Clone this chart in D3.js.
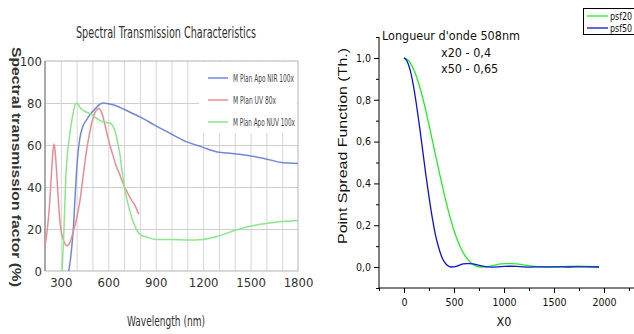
<!DOCTYPE html>
<html>
<head>
<meta charset="utf-8">
<script src="https://cdn.jsdelivr.net/npm/d3@7"></script>
<style>
  html, body { margin: 0; padding: 0; background: #fff; }
  svg { display: block; }
</style>
</head>
<body>
<svg id="chart" width="634" height="334"></svg>
<script>
// ---------------- DATA ----------------
// Left panel: Spectral transmission (%) vs wavelength (nm)
const specTitle = "Spectral Transmission Characteristics";
const specXLabel = "Wavelength (nm)";
const specYLabel = "Spectral transmission factor (%)";
const specXTicks = [300, 600, 900, 1200, 1500, 1800];
const specYTicks = [0, 20, 40, 60, 80, 100];
const specSeriesNames = ["M Plan Apo NIR 100x", "M Plan UV 80x", "M Plan Apo NUV 100x"];

const nirWl  = [350, 360, 370, 380, 390, 400, 410, 420, 440, 463, 490, 515, 540, 567, 600, 653, 700, 755, 800, 893, 988, 1093, 1195, 1290, 1385, 1485, 1586, 1693, 1800];
const nirVal = [0,   5,   12,  21,  35,  48,  57,  63,  69,  72,  75,  77,  79,  80,  79.6, 78.6, 77, 75, 73.4, 69.5, 65.7, 61.6, 59, 56.7, 56, 55, 53.6, 51.7, 51.2];

const uvWl  = [200, 215, 230, 242, 252, 258, 265, 273, 285, 300, 320, 340, 360, 380, 400, 420, 441, 460, 483, 500, 520, 538, 555, 575, 590, 610, 630, 650, 670, 692, 720, 745, 767, 793];
const uvVal = [12,  20,  33,  48,  58,  60.5, 56, 48, 33,  20,  14,  12,  14,  19,  25,  33,  45,  56,  66,  72,  76,  77.5, 76, 71, 66,  60,  55,  50,  46.5, 42, 37.5, 34, 31.5, 27];

const nuvWl  = [308, 320, 332, 345, 360, 375, 390, 400, 420, 450, 483, 520, 566, 610, 641, 660, 675, 690, 710, 735, 760, 780, 810, 840, 900, 1000, 1100, 1156, 1200, 1282, 1408, 1534, 1660, 1800];
const nuvVal = [0,   20,  45,  58,  67,  74,  79,  80,  78,  76,  75,  73,  71,  70.5, 67, 61, 55, 46, 37,  29,  23,  19.5, 17, 16.3, 15, 15,  14.8, 14.8, 15, 16.3, 19.5, 21.9, 23.2, 24];

// Right panel: Point spread function
const psfXLabel = "X0";
const psfYLabel = "Point Spread Function (Th.)";
const psfNote = ["Longueur d'onde 508nm", "x20 - 0,4", "x50 - 0,65"];
const psfSeriesNames = ["psf20", "psf50"];
const psfXTicks = [0, 500, 1000, 1500, 2000];
const psfXMinor = [-250, 250, 750, 1250, 1750, 2250];
const psfYTicks = [0, 0.2, 0.4, 0.6, 0.8, 1.0];
const psfYMinor = [-0.1, 0.1, 0.3, 0.5, 0.7, 0.9, 1.1];

const psf20X = [0, 51, 102, 154, 205, 256, 307, 359, 410, 461, 512, 563, 615, 666, 717, 768, 820, 871, 922, 973, 1025, 1076, 1127, 1178, 1229, 1281, 1332, 1383, 1434, 1537, 1639, 1742, 1844, 1947];
const psf20Y = [1.0, 0.984, 0.939, 0.867, 0.775, 0.667, 0.553, 0.440, 0.333, 0.238, 0.158, 0.096, 0.051, 0.022, 0.006, 0.0003, 0.001, 0.005, 0.011, 0.015, 0.017, 0.017, 0.015, 0.012, 0.0085, 0.005, 0.002, 0.0006, 0.0, 0.0013, 0.0034, 0.004, 0.003, 0.0012];

const psf50X = [0, 31, 63, 94, 125, 157, 188, 219, 251, 282, 313, 345, 376, 407, 439, 470, 501, 533, 564, 595, 627, 658, 689, 720, 752, 783, 814, 846, 877, 940, 1002, 1065, 1128, 1190, 1253, 1378, 1504, 1650, 1800, 1950];
const psf50Y = [1.0, 0.984, 0.939, 0.867, 0.775, 0.667, 0.553, 0.440, 0.333, 0.238, 0.158, 0.096, 0.051, 0.022, 0.006, 0.0003, 0.001, 0.005, 0.011, 0.015, 0.017, 0.017, 0.015, 0.012, 0.0085, 0.005, 0.002, 0.0006, 0.0, 0.0013, 0.0034, 0.004, 0.003, 0.0012, 0.0001, 0.001, 0.0014, 0.0005, 0.0008, 0.0005];

// ---------------- DRAWING ----------------
const NARROW = "'Liberation Sans Narrow','Arial Narrow','DejaVu Sans Condensed',sans-serif";
const SANS = "'Liberation Sans',Arial,sans-serif";
const svg = d3.select("#chart");
const intFmt = d3.format("d");

// ===== Left panel =====
const L = { x0: 45, x1: 298, y0: 61, y1: 271 };
const xL = d3.scaleLinear().domain([200, 1800]).range([L.x0, L.x1]);
const yL = d3.scaleLinear().domain([0, 100]).range([L.y1, L.y0]);
const left = svg.append("g");

left.append("defs").append("clipPath").attr("id", "clipL")
  .append("rect").attr("x", L.x0).attr("y", L.y0 - 2).attr("width", L.x1 - L.x0).attr("height", L.y1 - L.y0 + 2);

// vertical grid every 100 nm
const vGrid = d3.range(300, 1800, 100);
left.append("g").attr("transform", `translate(0,${L.y1})`)
  .call(d3.axisBottom(xL).tickValues(vGrid).tickSize(-(L.y1 - L.y0)).tickFormat(""))
  .call(g => g.select(".domain").remove())
  .call(g => g.selectAll("line").attr("stroke", "#d6d6d6").attr("stroke-width", 1));
// horizontal grid
left.append("g").attr("transform", `translate(${L.x0},0)`)
  .call(d3.axisLeft(yL).tickValues([20, 40, 60, 80]).tickSize(-(L.x1 - L.x0)).tickFormat(""))
  .call(g => g.select(".domain").remove())
  .call(g => g.selectAll("line").attr("stroke", "#cfcfcf").attr("stroke-width", 1));

// frame
left.append("rect").attr("x", L.x0).attr("y", L.y0).attr("width", L.x1 - L.x0).attr("height", L.y1 - L.y0)
  .attr("fill", "none").attr("stroke", "#b5b5b5").attr("stroke-width", 1);
left.append("line").attr("x1", L.x0).attr("x2", L.x0).attr("y1", L.y0).attr("y2", L.y1)
  .attr("stroke", "#8a8a8a").attr("stroke-width", 1.2);

// legend background
const legL = left.append("g");
legL.append("rect").attr("x", 199).attr("y", L.y0 + 1).attr("width", L.x1 - 200).attr("height", 71)
  .attr("fill", "#fff");

// curves
const lineL = d3.line().x(d => xL(d[0])).y(d => yL(d[1])).curve(d3.curveMonotoneX);
const specSeries = [
  { wl: nirWl, val: nirVal, color: "#7088dc" },
  { wl: uvWl, val: uvVal, color: "#f08a92" },
  { wl: nuvWl, val: nuvVal, color: "#8ce68c" }
];
const curvesL = left.append("g").attr("clip-path", "url(#clipL)");
specSeries.forEach(s => {
  curvesL.append("path").datum(s.wl.map((w, i) => [w, s.val[i]]))
    .attr("d", lineL).attr("fill", "none").attr("stroke", s.color).attr("stroke-width", 1.5);
});

// legend entries
specSeriesNames.forEach((name, i) => {
  const y = 78 + i * 22;
  legL.append("line").attr("x1", 208).attr("x2", 228).attr("y1", y).attr("y2", y)
    .attr("stroke", specSeries[i].color).attr("stroke-width", 1.5);
  legL.append("text").attr("x", 233).attr("y", y + 3.8).text(name)
    .attr("font-family", NARROW).attr("font-size", 10.5).attr("fill", "#444")
    .attr("textLength", [61, 43, 62][i]).attr("lengthAdjust", "spacingAndGlyphs");
});

// tick labels
left.append("g").attr("transform", `translate(${L.x0},0)`)
  .call(d3.axisLeft(yL).tickValues(specYTicks).tickSize(0).tickPadding(3).tickFormat(intFmt))
  .call(g => g.select(".domain").remove())
  .call(g => g.selectAll("text").attr("font-family", NARROW).attr("font-size", 13).attr("fill", "#333"));
left.append("g").attr("transform", `translate(0,${L.y1})`)
  .call(d3.axisBottom(xL).tickValues(specXTicks).tickSize(0).tickPadding(7).tickFormat(intFmt))
  .call(g => g.select(".domain").remove())
  .call(g => g.selectAll("text").attr("font-family", NARROW).attr("font-size", 13).attr("fill", "#333"));

// titles
left.append("text").attr("x", 166).attr("y", 38).attr("text-anchor", "middle")
  .attr("font-family", NARROW).attr("font-size", 16.5).attr("fill", "#333")
  .attr("textLength", 180).attr("lengthAdjust", "spacingAndGlyphs").text(specTitle);
left.append("text").attr("x", 166).attr("y", 326).attr("text-anchor", "middle")
  .attr("font-family", NARROW).attr("font-size", 14).attr("fill", "#333")
  .attr("textLength", 78).attr("lengthAdjust", "spacingAndGlyphs").text(specXLabel);
left.append("text").attr("transform", "translate(12,167) rotate(90)").attr("text-anchor", "middle")
  .attr("font-family", SANS).attr("font-size", 13).attr("font-weight", "bold").attr("fill", "#333")
  .attr("textLength", 240).attr("lengthAdjust", "spacingAndGlyphs").text(specYLabel);

// ===== Right panel =====
const xR = d3.scaleLinear().domain([-250, 2300]).range([379, 634]);
const yR = d3.scaleLinear().domain([-0.1, 1.1]).range([288, 37]);
const right = svg.append("g");
const fmt = d => d3.format(".1f")(d).replace(".", ",");

right.append("g").attr("transform", "translate(379,0)")
  .call(d3.axisLeft(yR).tickValues(psfYMinor).tickSize(3).tickFormat(""))
  .call(g => g.select(".domain").remove())
  .call(g => g.selectAll("line").attr("stroke", "#000"));
right.append("g").attr("transform", "translate(379,0)")
  .call(d3.axisLeft(yR).tickValues(psfYTicks).tickSize(5).tickPadding(3).tickFormat(fmt))
  .call(g => g.select(".domain").attr("d", `M0,${yR(1.1)}V${yR(-0.1)}`).attr("stroke", "#000"))
  .call(g => g.selectAll("line").attr("stroke", "#000"))
  .call(g => g.selectAll("text").attr("font-family", NARROW).attr("font-size", 10.5).attr("fill", "#111"));

right.append("g").attr("transform", "translate(0,288)")
  .call(d3.axisBottom(xR).tickValues(psfXMinor).tickSize(3).tickFormat(""))
  .call(g => g.select(".domain").remove())
  .call(g => g.selectAll("line").attr("stroke", "#000"));
right.append("g").attr("transform", "translate(0,288)")
  .call(d3.axisBottom(xR).tickValues(psfXTicks).tickSize(5).tickPadding(6).tickFormat(intFmt))
  .call(g => g.select(".domain").attr("d", `M379,0H634`).attr("stroke", "#000"))
  .call(g => g.selectAll("line").attr("stroke", "#000"))
  .call(g => g.selectAll("text").attr("font-family", NARROW).attr("font-size", 10.5).attr("fill", "#111"));

const lineR = d3.line().x(d => xR(d[0])).y(d => yR(d[1])).curve(d3.curveMonotoneX);
right.append("path").datum(psf20X.map((x, i) => [x, psf20Y[i]]))
  .attr("d", lineR).attr("fill", "none").attr("stroke", "#22f022").attr("stroke-width", 1.3);
right.append("path").datum(psf50X.map((x, i) => [x, psf50Y[i]]))
  .attr("d", lineR).attr("fill", "none").attr("stroke", "#1010d8").attr("stroke-width", 1.3);

// labels
right.append("text").attr("x", 504).attr("y", 326).attr("text-anchor", "middle")
  .attr("font-family", NARROW).attr("font-size", 12.5).attr("fill", "#111").text(psfXLabel);
right.append("text").attr("transform", "translate(347,146) rotate(-90)").attr("text-anchor", "middle")
  .attr("font-family", SANS).attr("font-size", 12.5).attr("fill", "#111")
  .attr("textLength", 196).attr("lengthAdjust", "spacingAndGlyphs").text(psfYLabel);

// note
right.append("text").attr("x", 382).attr("y", 40).attr("font-family", NARROW).attr("font-size", 12.5).attr("fill", "#111").text(psfNote[0]);
right.append("text").attr("x", 441).attr("y", 57).attr("font-family", NARROW).attr("font-size", 12.5).attr("fill", "#111").text(psfNote[1]);
right.append("text").attr("x", 441).attr("y", 73).attr("font-family", NARROW).attr("font-size", 12.5).attr("fill", "#111").text(psfNote[2]);

// legend
const legR = right.append("g");
legR.append("rect").attr("x", 583.5).attr("y", 8.5).attr("width", 80).attr("height", 26)
  .attr("fill", "#fff").attr("stroke", "#000").attr("stroke-width", 1);
const legColors = ["#22f022", "#1010d8"];
psfSeriesNames.forEach((n, i) => {
  const y = 16 + i * 12;
  legR.append("line").attr("x1", 587).attr("x2", 608).attr("y1", y).attr("y2", y)
    .attr("stroke", legColors[i]).attr("stroke-width", 1.3);
  legR.append("text").attr("x", 610).attr("y", y + 3.5).attr("font-family", NARROW)
    .attr("font-size", 10).attr("fill", "#111")
    .attr("textLength", 22).attr("lengthAdjust", "spacingAndGlyphs").text(n);
});
</script>
</body>
</html>
